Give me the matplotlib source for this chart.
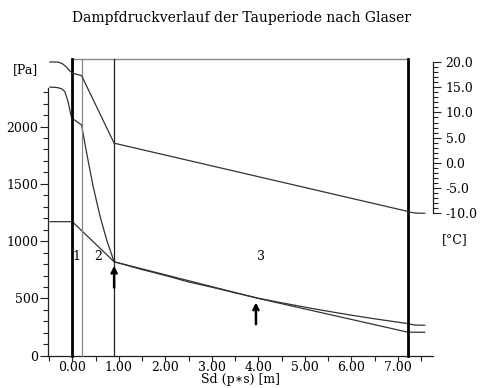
import matplotlib
matplotlib.use("Agg")
import matplotlib.pyplot as plt
from matplotlib.ticker import FixedLocator, FuncFormatter
import matplotlib.transforms as mtrans

plt.rcParams['font.family'] = ['DejaVu Serif']

# ---- data ----
title = "Dampfdruckverlauf der Tauperiode nach Glaser"
layer_bounds = [0.0, 0.2, 0.9, 7.22]          # sd positions of layer boundaries [m]
layer_labels = ["1", "2", "3"]

# temperature profile (right axis, degC)
sd_T = [-0.48, -0.31, -0.22, -0.135, -0.07, 0.00, 0.20, 0.90, 7.22, 7.30, 7.40, 7.47, 7.58]
temp = [20.0, 20.0, 19.7, 19.1, 18.4, 17.8, 17.3, 3.9, -9.65, -9.85, -9.97, -10.0, -10.0]

# saturation vapour pressure (left axis, Pa)
sd_ps = [-0.48, -0.31, -0.22, -0.16, -0.09, -0.03, 0.00, 0.20, 0.31, 0.45, 0.60, 0.74, 0.90,
         1.50, 2.00, 2.50, 3.00, 3.50, 4.00, 4.50, 5.00, 5.50, 6.00, 6.50, 7.00, 7.22,
         7.30, 7.40, 7.58]
p_sat = [2345, 2340, 2328, 2305, 2217, 2101, 2072, 2014, 1767, 1475, 1213, 1010, 820,
         752, 700, 644, 598, 549, 502, 462, 424, 388, 354, 322, 293, 280,
         272, 267, 266]

# actual vapour pressure (left axis, Pa)
sd_p = [-0.48, 0.00, 0.90, 4.00, 7.22, 7.58]
p_vap = [1170, 1170, 820, 500, 205, 205]

# condensation planes (arrows)
cond_sd = [0.90, 3.95]
cond_p = [820, 500]

x_ticks = [0, 1, 2, 3, 4, 5, 6, 7]
x_minor = [-0.5, 0.5, 1.5, 2.5, 3.5, 4.5, 5.5, 6.5, 7.5]
p_ticks = [0, 500, 1000, 1500, 2000]
p_minor = list(range(100, 2400, 100))
t_ticks = [-10, -5, 0, 5, 10, 15, 20]
t_minor = list(range(-9, 20))

# ---- figure ----
fig = plt.figure(figsize=(4.82, 3.88), dpi=100)
ax = fig.add_axes([48.1 / 482, 32.3 / 388, 385 / 482, 296.7 / 388])
ax.set_xlim(-0.52, 7.76)
ax.set_ylim(0, 2590)

ax2 = ax.twinx()
ax2.set_ylim(-38.27, 20.6)

for s in ["top", "right"]:
    ax.spines[s].set_visible(False)
for s in ["top", "left", "bottom"]:
    ax2.spines[s].set_visible(False)
ax.spines["left"].set_bounds(0, 2340)
ax2.spines["right"].set_bounds(-10, 20)
for sp in [ax.spines["left"], ax.spines["bottom"], ax2.spines["right"]]:
    sp.set_linewidth(0.9)
    sp.set_color("#222222")

# x ticks
ax.xaxis.set_major_locator(FixedLocator(x_ticks))
ax.xaxis.set_minor_locator(FixedLocator(x_minor))
ax.xaxis.set_major_formatter(FuncFormatter(lambda v, p: f"{v:.2f}"))
ax.tick_params(axis="x", which="both", direction="out", length=3.5, width=0.8,
               labelsize=9, pad=0.5, color="#222222")

# left y ticks
ax.yaxis.set_major_locator(FixedLocator(p_ticks))
ax.yaxis.set_minor_locator(FixedLocator(p_minor))
ax.tick_params(axis="y", which="major", direction="out", length=6, width=0.8,
               labelsize=9, pad=1, color="#222222")
ax.tick_params(axis="y", which="minor", direction="out", length=3.5, width=0.8,
               color="#222222")

# right y ticks
ax2.yaxis.set_major_locator(FixedLocator(t_ticks))
ax2.yaxis.set_minor_locator(FixedLocator(t_minor))
ax2.yaxis.set_major_formatter(FuncFormatter(lambda v, p: f"{v:.1f}"))
ax2.tick_params(axis="y", which="major", direction="out", length=6, width=0.8,
                labelsize=9, pad=3, color="#222222")
ax2.tick_params(axis="y", which="minor", direction="out", length=3.5, width=0.8,
                color="#222222")

# layer boundaries
widths = [2.0, 0.9, 0.9, 2.0]
colors = ["black", "#888888", "#222222", "black"]
for xb, lw, c in zip(layer_bounds, widths, colors):
    ax.axvline(xb, color=c, lw=lw, clip_on=False, zorder=3)
trans = mtrans.blended_transform_factory(ax.transData, ax.transAxes)
ax.plot([layer_bounds[0], layer_bounds[-1]], [1, 1], transform=trans, color="#888888",
        lw=1.0, clip_on=False)

# curves
ax2.plot(sd_T, temp, color="#333333", lw=0.9)
ax.plot(sd_ps, p_sat, color="#333333", lw=0.9)
ax.plot(sd_p, p_vap, color="#333333", lw=0.9)

# layer labels
for i, lab in enumerate(layer_labels):
    xm = (layer_bounds[i] + layer_bounds[i + 1]) / 2
    ax.text(xm, 862, lab, ha="center", va="center", fontsize=9)

# arrows at condensation planes
for xs, ps in zip(cond_sd, cond_p):
    ax.annotate("", xy=(xs, ps - 35), xytext=(xs, ps - 225),
                arrowprops=dict(arrowstyle="->", lw=1.8, color="black",
                                mutation_scale=9, shrinkA=0, shrinkB=0))

ax.set_xlabel("Sd (p\u2217s) [m]", fontsize=9, labelpad=-1)

fig.text(241 / 482, 1 - 18 / 388, title, ha="center", va="center", fontsize=10)
fig.text(25 / 482, 1 - 70 / 388, "[Pa]", ha="center", va="center", fontsize=9)
fig.text(455 / 482, 1 - 240 / 388, "[\u00b0C]", ha="center", va="center", fontsize=9)

fig.savefig("out.png", dpi=100)
